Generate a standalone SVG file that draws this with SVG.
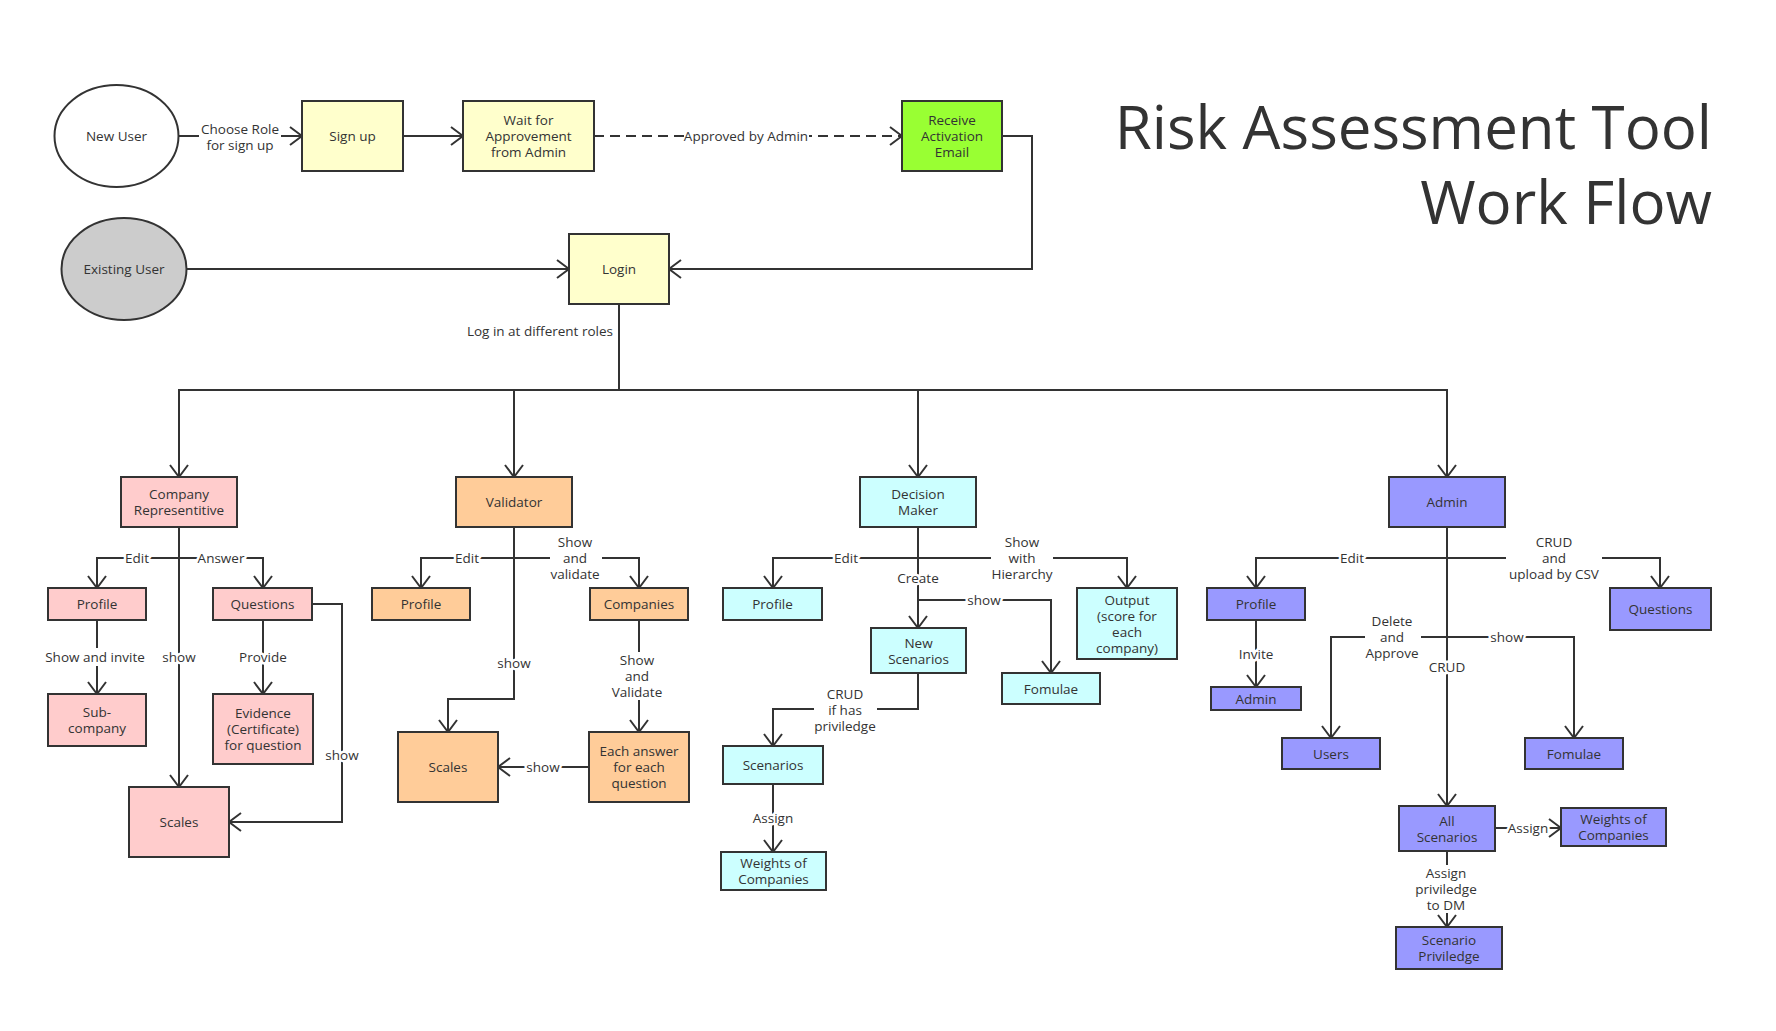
<svg xmlns="http://www.w3.org/2000/svg" width="1776" height="1031" viewBox="0 0 1776 1031">
<style>
text{font-family:"Open Sans","Noto Sans","Liberation Sans",sans-serif;font-size:13.5px;fill:#333;text-anchor:middle;dominant-baseline:central}
.title{font-size:60px;text-anchor:end;dominant-baseline:auto}
.n{stroke:#333;stroke-width:2}
.y{fill:#ffffcc}.g{fill:#99ff33}.p{fill:#ffcccc}.o{fill:#ffcc99}.c{fill:#ccffff}.b{fill:#9999ff}
.e{stroke:#333;stroke-width:2;fill:none;marker-end:url(#arr)}
.lbl{stroke:#fff;stroke-width:5;stroke-linejoin:round;paint-order:stroke}
.bg{fill:#fff}
</style>
<defs>
<marker id="arr" markerUnits="userSpaceOnUse" viewBox="0 0 14 20" refX="13" refY="10" markerWidth="14" markerHeight="20" orient="auto">
<path d="M1,1 L13,10 L1,19" fill="none" stroke="#333" stroke-width="2"/>
</marker>
</defs>
<rect width="1776" height="1031" fill="#fff"/>
<g id="title">
<text class="title" x="1712" y="149">Risk Assessment Tool</text>
<text class="title" x="1712" y="224">Work Flow</text>
</g>
<g id="connectors">
<path class="e" d="M178.5,136 H302"/>
<rect class="bg" x="199" y="121" width="82" height="31"/>
<text x="240" y="129">Choose Role</text><text x="240" y="145">for sign up</text>
<path class="e" d="M403.5,136 H463"/>
<path class="e" d="M594,136 H902" stroke-dasharray="10,6"/>
<rect class="bg" x="684" y="127" width="125" height="18"/>
<text x="746" y="136">Approved by Admin</text>
<path class="e" d="M1002,136 H1032 V269 H669"/>
<path class="e" d="M186,269 H569"/>
<path class="e" d="M619,304 V390 H179 V477"/>
<path class="e" d="M619,390 H514 V477"/>
<path class="e" d="M619,390 H918 V477"/>
<path class="e" d="M918,390 H1447 V477"/>
<text x="613" y="331" style="text-anchor:end">Log in at different roles</text>

<path class="e" d="M179,527 V558 H97 V588"/>
<path class="e" d="M179,558 H263 V588"/>
<path class="e" d="M179,558 V787"/>
<path class="e" d="M97,620 V694"/>
<path class="e" d="M263,620 V694"/>
<path class="e" d="M312,604 H342 V822 H229"/>
<text class="lbl" x="137" y="558">Edit</text>
<text class="lbl" x="221" y="558">Answer</text>
<text class="lbl" x="179" y="657">show</text>
<rect class="bg" x="44" y="648" width="102" height="18"/>
<text x="95" y="657">Show and invite</text>
<text class="lbl" x="263" y="657">Provide</text>
<text class="lbl" x="342" y="755">show</text>

<path class="e" d="M514,527 V558 H421 V588"/>
<path class="e" d="M514,558 H639 V588"/>
<path class="e" d="M514,558 V699 H448 V732"/>
<path class="e" d="M639,620 V732"/>
<path class="e" d="M589,767 H498"/>
<text class="lbl" x="467" y="558">Edit</text>
<rect class="bg" x="550" y="535" width="52" height="46"/>
<text x="575" y="542">Show</text><text x="575" y="558">and</text><text x="575" y="574">validate</text>
<text class="lbl" x="514" y="663">show</text>
<rect class="bg" x="611" y="652" width="54" height="48"/>
<text x="637" y="660">Show</text><text x="637" y="676">and</text><text x="637" y="692">Validate</text>
<text class="lbl" x="543" y="767">show</text>

<path class="e" d="M918,527 V558 H773 V588"/>
<path class="e" d="M918,558 H1127 V588"/>
<path class="e" d="M918,558 V628"/>
<path class="e" d="M918,600 H1051 V673"/>
<path class="e" d="M918,673 V709 H773 V746"/>
<path class="e" d="M773,784 V852"/>
<text class="lbl" x="846" y="558">Edit</text>
<rect class="bg" x="991" y="535" width="62" height="46"/>
<text x="1022" y="542">Show</text><text x="1022" y="558">with</text><text x="1022" y="574">Hierarchy</text>
<text class="lbl" x="918" y="578">Create</text>
<text class="lbl" x="984" y="600">show</text>
<rect class="bg" x="814" y="686" width="63" height="48"/>
<text x="845" y="694">CRUD</text><text x="845" y="710">if has</text><text x="845" y="726">priviledge</text>
<text class="lbl" x="773" y="818">Assign</text>

<path class="e" d="M1447,527 V558 H1256 V588"/>
<path class="e" d="M1447,558 H1660 V588"/>
<path class="e" d="M1256,620 V687"/>
<path class="e" d="M1447,558 V637 H1331 V738"/>
<path class="e" d="M1447,637 H1574 V738"/>
<path class="e" d="M1447,637 V806"/>
<path class="e" d="M1495,828 H1561"/>
<path class="e" d="M1447,851 V927"/>
<text class="lbl" x="1352" y="558">Edit</text>
<rect class="bg" x="1506" y="535" width="96" height="46"/>
<text x="1554" y="542">CRUD</text><text x="1554" y="558">and</text><text x="1554" y="574">upload by CSV</text>
<text class="lbl" x="1256" y="654">Invite</text>
<rect class="bg" x="1365" y="613" width="56" height="48"/>
<text x="1392" y="621">Delete</text><text x="1392" y="637">and</text><text x="1392" y="653">Approve</text>
<text class="lbl" x="1507" y="637">show</text>
<text class="lbl" x="1447" y="667">CRUD</text>
<text class="lbl" x="1528" y="828">Assign</text>
<rect class="bg" x="1414" y="865" width="64" height="48"/>
<text x="1446" y="873">Assign</text><text x="1446" y="889">priviledge</text><text x="1446" y="905">to DM</text>
</g>

<g id="new-user"><ellipse class="n" cx="116.5" cy="136" rx="62" ry="51" fill="#fff"/><text x="116.5" y="136">New User</text></g>
<g id="sign-up"><rect class="n y" x="302" y="101" width="101" height="70"/><text x="352.5" y="136">Sign up</text></g>
<g id="wait"><rect class="n y" x="463" y="101" width="131" height="70"/><text x="528.5" y="120">Wait for</text><text x="528.5" y="136">Approvement</text><text x="528.5" y="152">from Admin</text></g>
<g id="receive"><rect class="n g" x="902" y="101" width="100" height="70"/><text x="952" y="120">Receive</text><text x="952" y="136">Activation</text><text x="952" y="152">Email</text></g>
<g id="existing-user"><ellipse class="n" cx="124" cy="269" rx="62.5" ry="51" fill="#cccccc"/><text x="124" y="269">Existing User</text></g>
<g id="login"><rect class="n y" x="569" y="234" width="100" height="70"/><text x="619" y="269">Login</text></g>

<g id="company-rep"><rect class="n p" x="121" y="477" width="116" height="50"/><text x="179" y="494">Company</text><text x="179" y="510">Representitive</text></g>
<g id="cr-profile"><rect class="n p" x="48" y="588" width="98" height="32"/><text x="97" y="604">Profile</text></g>
<g id="cr-questions"><rect class="n p" x="213" y="588" width="99" height="32"/><text x="262.5" y="604">Questions</text></g>
<g id="cr-subcompany"><rect class="n p" x="48" y="694" width="98" height="52"/><text x="97" y="712">Sub-</text><text x="97" y="728">company</text></g>
<g id="cr-evidence"><rect class="n p" x="213" y="694" width="100" height="70"/><text x="263" y="713">Evidence</text><text x="263" y="729">(Certificate)</text><text x="263" y="745">for question</text></g>
<g id="cr-scales"><rect class="n p" x="129" y="787" width="100" height="70"/><text x="179" y="822">Scales</text></g>

<g id="validator"><rect class="n o" x="456" y="477" width="116" height="50"/><text x="514" y="502">Validator</text></g>
<g id="v-profile"><rect class="n o" x="372" y="588" width="98" height="32"/><text x="421" y="604">Profile</text></g>
<g id="v-companies"><rect class="n o" x="590" y="588" width="98" height="32"/><text x="639" y="604">Companies</text></g>
<g id="v-scales"><rect class="n o" x="398" y="732" width="100" height="70"/><text x="448" y="767">Scales</text></g>
<g id="v-each-answer"><rect class="n o" x="589" y="732" width="100" height="70"/><text x="639" y="751">Each answer</text><text x="639" y="767">for each</text><text x="639" y="783">question</text></g>

<g id="decision-maker"><rect class="n c" x="860" y="477" width="116" height="50"/><text x="918" y="494">Decision</text><text x="918" y="510">Maker</text></g>
<g id="dm-profile"><rect class="n c" x="723" y="588" width="99" height="32"/><text x="772.5" y="604">Profile</text></g>
<g id="dm-output"><rect class="n c" x="1077" y="588" width="100" height="71"/><text x="1127" y="600">Output</text><text x="1127" y="616">(score for</text><text x="1127" y="632">each</text><text x="1127" y="648">company)</text></g>
<g id="dm-new-scenarios"><rect class="n c" x="871" y="628" width="95" height="45"/><text x="918.5" y="642.5">New</text><text x="918.5" y="658.5">Scenarios</text></g>
<g id="dm-fomulae"><rect class="n c" x="1002" y="673" width="98" height="31"/><text x="1051" y="688.5">Fomulae</text></g>
<g id="dm-scenarios"><rect class="n c" x="723" y="746" width="100" height="38"/><text x="773" y="765">Scenarios</text></g>
<g id="dm-weights"><rect class="n c" x="721" y="852" width="105" height="38"/><text x="773.5" y="863">Weights of</text><text x="773.5" y="879">Companies</text></g>

<g id="admin"><rect class="n b" x="1389" y="477" width="116" height="50"/><text x="1447" y="502">Admin</text></g>
<g id="a-profile"><rect class="n b" x="1207" y="588" width="98" height="32"/><text x="1256" y="604">Profile</text></g>
<g id="a-questions"><rect class="n b" x="1610" y="588" width="101" height="42"/><text x="1660.5" y="609">Questions</text></g>
<g id="a-admin"><rect class="n b" x="1211" y="687" width="90" height="23"/><text x="1256" y="698.5">Admin</text></g>
<g id="a-users"><rect class="n b" x="1282" y="738" width="98" height="31"/><text x="1331" y="753.5">Users</text></g>
<g id="a-fomulae"><rect class="n b" x="1525" y="738" width="98" height="31"/><text x="1574" y="753.5">Fomulae</text></g>
<g id="a-all-scenarios"><rect class="n b" x="1399" y="806" width="96" height="45"/><text x="1447" y="820.5">All</text><text x="1447" y="836.5">Scenarios</text></g>
<g id="a-weights"><rect class="n b" x="1561" y="808" width="105" height="38"/><text x="1613.5" y="819">Weights of</text><text x="1613.5" y="835">Companies</text></g>
<g id="a-scenario-priviledge"><rect class="n b" x="1396" y="927" width="106" height="42"/><text x="1449" y="940">Scenario</text><text x="1449" y="956">Priviledge</text></g>
</svg>
